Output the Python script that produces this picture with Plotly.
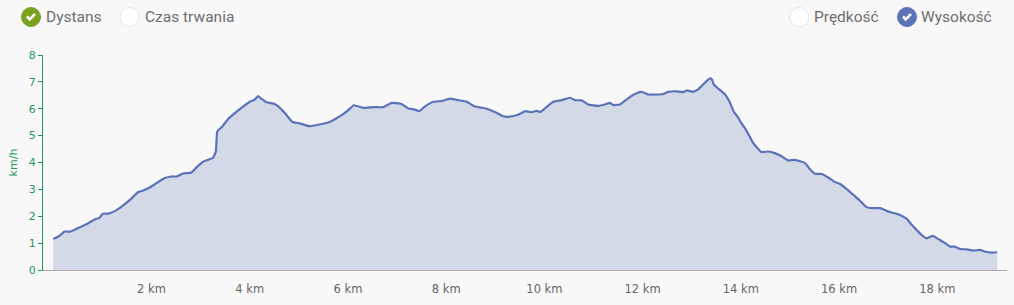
import plotly.graph_objects as go

distance_km = [0.00, 0.13, 0.23, 0.34, 0.47, 0.61, 0.74, 0.85, 0.93, 1.01, 1.12, 1.25, 1.39, 1.56,
               1.73, 1.83, 1.97, 2.10, 2.27, 2.41, 2.51, 2.64, 2.81, 2.92, 3.05, 3.19, 3.25, 3.31,
               3.34, 3.43, 3.56, 3.66, 3.83, 4.00, 4.10, 4.17, 4.26, 4.34, 4.51, 4.58, 4.71, 4.87,
               4.99, 5.22, 5.49, 5.63, 5.87, 6.00, 6.12, 6.31, 6.51, 6.72, 6.89, 7.09, 7.23, 7.36,
               7.45, 7.57, 7.74, 7.91, 8.08, 8.21, 8.42, 8.58, 8.82, 8.99, 9.16, 9.26, 9.45, 9.62,
               9.74, 9.84, 9.92, 10.04, 10.18, 10.35, 10.52, 10.62, 10.76, 10.89, 11.10, 11.23,
               11.33, 11.40, 11.54, 11.67, 11.84, 11.98, 12.11, 12.28, 12.42, 12.52, 12.69, 12.83,
               12.90, 13.03, 13.13, 13.23, 13.37, 13.41, 13.45, 13.54, 13.68, 13.78, 13.85, 13.95,
               14.02, 14.08, 14.18, 14.25, 14.42, 14.56, 14.69, 14.83, 14.97, 15.10, 15.31, 15.39,
               15.51, 15.65, 15.78, 15.92, 16.02, 16.15, 16.29, 16.41, 16.56, 16.70, 16.84, 16.97,
               17.07, 17.17, 17.28, 17.38, 17.48, 17.58, 17.68, 17.79, 17.91, 18.02, 18.16, 18.26,
               18.36, 18.46, 18.60, 18.74, 18.87, 18.98, 19.11, 19.22]
speed_kmh = [1.15, 1.28, 1.43, 1.43, 1.53, 1.65, 1.77, 1.89, 1.93, 2.09, 2.10, 2.19, 2.36, 2.61,
             2.90, 2.96, 3.08, 3.23, 3.42, 3.48, 3.48, 3.59, 3.63, 3.83, 4.03, 4.13, 4.17, 4.41,
             5.16, 5.32, 5.62, 5.78, 6.03, 6.26, 6.34, 6.47, 6.34, 6.24, 6.18, 6.09, 5.85, 5.51,
             5.47, 5.35, 5.44, 5.51, 5.76, 5.94, 6.13, 6.03, 6.06, 6.06, 6.22, 6.18, 6.01, 5.97,
             5.91, 6.09, 6.26, 6.29, 6.38, 6.33, 6.26, 6.09, 6.00, 5.88, 5.72, 5.70, 5.77, 5.91,
             5.87, 5.92, 5.88, 6.06, 6.26, 6.32, 6.41, 6.32, 6.31, 6.16, 6.11, 6.16,
             6.22, 6.14, 6.16, 6.34, 6.55, 6.63, 6.53, 6.53, 6.55, 6.63, 6.65, 6.62,
             6.68, 6.63, 6.72, 6.90, 7.13, 7.09, 6.90, 6.75, 6.53, 6.22, 5.91, 5.66,
             5.44, 5.29, 4.97, 4.73, 4.39, 4.41, 4.35, 4.23, 4.07, 4.10, 3.98, 3.79,
             3.58, 3.57, 3.44, 3.27, 3.20, 3.02, 2.80, 2.61, 2.34, 2.30, 2.30, 2.20,
             2.14, 2.09, 2.01, 1.90, 1.68, 1.49, 1.31, 1.18, 1.27, 1.15, 1.00, 0.87,
             0.87, 0.78, 0.77, 0.72, 0.75, 0.68, 0.65, 0.66]

x_tick_values = [2, 4, 6, 8, 10, 12, 14, 16, 18]
x_tick_labels = ["2 km", "4 km", "6 km", "8 km", "10 km", "12 km", "14 km", "16 km", "18 km"]
y_tick_values = [0, 1, 2, 3, 4, 5, 6, 7, 8]
y_title = "km/h"

legend_labels = ["Dystans", "Czas trwania", "Prędkość", "Wysokość"]
legend_checked = [True, False, False, True]
legend_colors = ["#7aa21f", "#ffffff", "#ffffff", "#5c73b8"]

W, H = 1014, 305
ML, MR, MT, MB = 43, 7, 55, 35
PW = W - ML - MR
PH = H - MT - MB


def px_x(px):
    return (px - ML) / PW


def px_y(py):
    return (H - MB - py) / PH


fig = go.Figure()
fig.add_trace(go.Scatter(
    x=distance_km, y=speed_kmh, mode="lines",
    line=dict(color="#5b72b8", width=2.2, shape="spline", smoothing=0.4),
    fill="tozeroy", fillcolor="#d3d9e7",
    hoverinfo="x+y", showlegend=False,
))

shapes = []
annotations = []
circle_cx = [31, 129.5, 799.3, 907]
text_x = [44, 142.5, 811.5, 918.5]
cy = 17
for lab, chk, col, cx, tx in zip(legend_labels, legend_checked, legend_colors, circle_cx, text_x):
    shapes.append(dict(
        type="circle", xref="paper", yref="paper",
        xsizemode="pixel", ysizemode="pixel",
        xanchor=px_x(cx), yanchor=px_y(cy),
        x0=-9.5, x1=9.5, y0=-9.5, y1=9.5,
        fillcolor=col,
        line=dict(color=col if chk else "#e6e6e6", width=1),
        layer="above",
    ))
    if chk:
        shapes.append(dict(
            type="path", xref="paper", yref="paper",
            xsizemode="pixel", ysizemode="pixel",
            xanchor=px_x(cx), yanchor=px_y(cy),
            path="M -4,0.5 L -1.3,-2.3 L 4,3",
            line=dict(color="#ffffff", width=2.6),
            layer="above",
        ))
    annotations.append(dict(
        x=px_x(tx), y=px_y(cy), xref="paper", yref="paper",
        text=lab, showarrow=False, xanchor="left", yanchor="middle",
        font=dict(family="Roboto", size=15.5, color="#6e6e6e"),
    ))

fig.update_layout(
    width=W, height=H,
    margin=dict(l=ML, r=MR, t=MT, b=MB),
    paper_bgcolor="#f8f8f8", plot_bgcolor="#f8f8f8",
    shapes=shapes, annotations=annotations,
    xaxis=dict(
        range=[-0.21, 19.42], tickvals=x_tick_values, ticktext=x_tick_labels,
        showgrid=False, zeroline=False, showline=True, linecolor="#a8a8a8", linewidth=1,
        ticks="", tickfont=dict(family="DejaVu Sans", size=11.5, color="#666666"),
        ticklabelstandoff=8, fixedrange=True,
    ),
    yaxis=dict(
        range=[0, 8], tickvals=y_tick_values,
        showgrid=False, zeroline=False, showline=True, linecolor="#1f9a5c", linewidth=1,
        ticks="outside", ticklen=4, tickcolor="#1f9a5c", tickwidth=1,
        tickfont=dict(family="DejaVu Sans", size=11, color="#1f9a5c"),
        title=dict(text=y_title, font=dict(family="DejaVu Sans", size=11, color="#1f9a5c"), standoff=8),
        fixedrange=True,
    ),
    font=dict(family="DejaVu Sans"),
)

fig.write_html("out.html")
